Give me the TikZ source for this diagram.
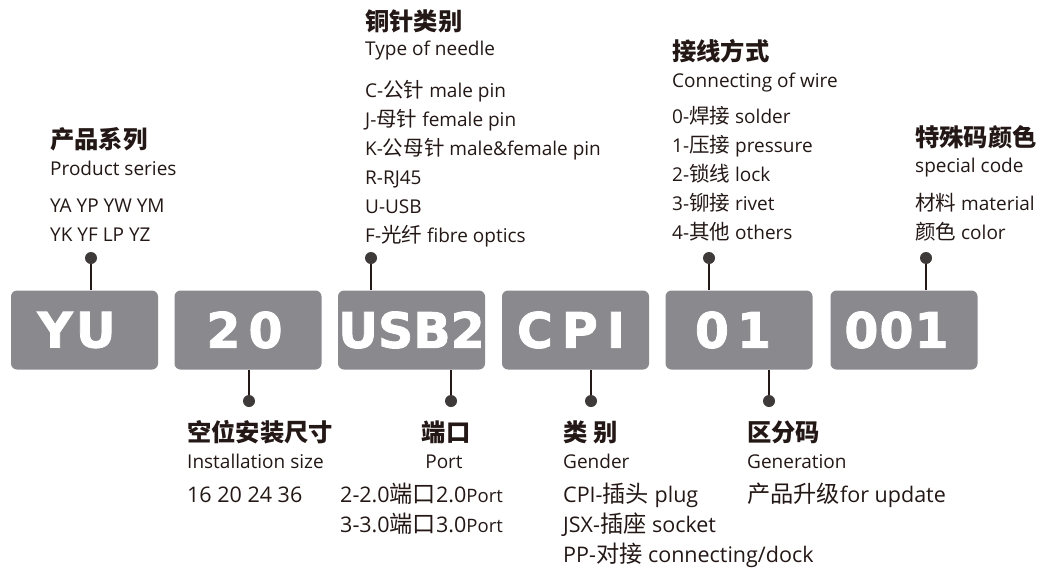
\documentclass[tikz,border=0pt]{standalone}
\usepackage{fontspec}
\setmainfont{Open Sans}
\newfontfamily\cjk{Noto Sans CJK SC}[Scale=1.08]
\newfontfamily\boxfont{DejaVu Sans}[BoldFeatures={FakeBold=1.6}]
\definecolor{boxgray}{RGB}{138,138,142}
\definecolor{dotc}{RGB}{62,58,57}
\definecolor{txt}{RGB}{35,24,21}
\begin{document}
\begin{tikzpicture}[x=1pt,y=-1pt,
  codebox/.style={fill=boxgray, rounded corners=6pt, minimum width=147pt, minimum height=79pt, inner sep=0pt, text=white, font=\boxfont\bfseries\fontsize{49}{49}\selectfont},
  pindot/.style={circle, fill=dotc, inner sep=0pt, minimum size=12pt},
  pinline/.style={draw=txt, line width=1.1pt},
  ttl/.style={anchor=base west, inner sep=0pt, text=txt, font=\cjk\bfseries\fontsize{22.5}{23}\selectfont},
  itm/.style={anchor=base west, inner sep=0pt, text=txt, font=\fontsize{19}{19}\selectfont},
  itmb/.style={anchor=base west, inner sep=0pt, text=txt, font=\fontsize{21.5}{21.5}\selectfont}]
\useasboundingbox (0,0) rectangle (1037,573);
\fill[white] (0,0) rectangle (1037,573);

% code boxes
\node[codebox] (b1) at (84.5,330) {Y\kern3pt U\kern16pt};
\node[codebox] (b2) at (248,330) {2\kern8pt 0\kern7pt};
\node[codebox] (b3) at (411.5,330) {U\kern0pt S\kern0pt B\kern0pt 2};
\node[codebox] (b4) at (575.5,330) {C\kern9pt P\kern9pt I\kern9pt};
\node[codebox] (b5) at (739,330) {0\kern8pt 1\kern12pt};
\node[codebox] (b6) at (904,330) {0\kern1pt 0\kern1pt 1\kern15pt};

% top pins
\node[pindot] (t1) at (91,258) {};
\node[pindot] (t3) at (371,258) {};
\node[pindot] (t5) at (709,258) {};
\node[pindot] (t6) at (926,258) {};
\draw[pinline] (t1) -- (t1 |- b1.north);
\draw[pinline] (t3) -- (t3 |- b3.north);
\draw[pinline] (t5) -- (t5 |- b5.north);
\draw[pinline] (t6) -- (t6 |- b6.north);

% bottom pins
\node[pindot] (u2) at (249,401) {};
\node[pindot] (u3) at (451,401) {};
\node[pindot] (u4) at (591,401) {};
\node[pindot] (u5) at (769,401) {};
\draw[pinline] (b2.south -| u2) -- (u2);
\draw[pinline] (b3.south -| u3) -- (u3);
\draw[pinline] (b4.south -| u4) -- (u4);
\draw[pinline] (b5.south -| u5) -- (u5);

% group 1
\node[ttl] (g1t) at (50,148) {产品系列};
\node[itm] (g1s) at (50,175) {Product series};
\node[itm] (g1a) at (50,212) {YA YP YW YM};
\node[itm] (g1b) at (50,241) {YK YF LP YZ};

% group 2
\node[ttl] (g2t) at (365,30) {铜针类别};
\node[itm] (g2s) at (365,55) {Type of needle};
\node[itm] (g2a) at (365,97) {C-{\cjk 公针} male pin};
\node[itm] (g2b) at (365,126) {J-{\cjk 母针} female pin};
\node[itm] (g2c) at (365,155) {K-{\cjk 公母针} male\&female pin};
\node[itm] (g2d) at (365,184) {R-RJ45};
\node[itm] (g2e) at (365,213) {U-USB};
\node[itm] (g2f) at (365,242) {F-{\cjk 光纤} fibre optics};

% group 3
\node[ttl] (g3t) at (672,60) {接线方式};
\node[itm] (g3s) at (672,87) {Connecting of wire};
\node[itm] (g3a) at (672,123) {0-{\cjk 焊接} solder};
\node[itm] (g3b) at (672,152) {1-{\cjk 压接} pressure};
\node[itm] (g3c) at (672,181) {2-{\cjk 锁线} lock};
\node[itm] (g3d) at (672,210) {3-{\cjk 铆接} rivet};
\node[itm] (g3e) at (672,239) {4-{\cjk 其他} others};

% group 4
\node[ttl] (g4t) at (915,146) {特殊码颜色};
\node[itm] (g4s) at (915,172) {special code};
\node[itm] (g4a) at (915,210) {{\cjk 材料} material};
\node[itm] (g4b) at (915,239) {{\cjk 颜色} color};

% group 5
\node[ttl] (g5t) at (187,441) {空位安装尺寸};
\node[itm] (g5s) at (187,468) {Installation size};
\node[itmb] (g5a) at (187,502) {16 20 24 36};

% group 6
\node[ttl, anchor=base] (g6t) at (446,441) {端口};
\node[itm, anchor=base] (g6s) at (444,468) {Port};
\node[itmb] (g6a) at (340,502) {2-2.0{\cjk 端口}2.0{\fontsize{18.5}{18.5}\selectfont Port}};
\node[itmb] (g6b) at (340,532) {3-3.0{\cjk 端口}3.0{\fontsize{18.5}{18.5}\selectfont Port}};

% group 7
\node[ttl] (g7t) at (563,441) {类 别};
\node[itm] (g7s) at (563,468) {Gender};
\node[itmb] (g7a) at (563,502) {CPI-{\cjk 插头} plug};
\node[itmb] (g7b) at (563,532) {JSX-{\cjk 插座} socket};
\node[itmb] (g7c) at (563,562) {PP-{\cjk 对接} connecting/dock};

% group 8
\node[ttl] (g8t) at (747,441) {区分码};
\node[itm] (g8s) at (747,468) {Generation};
\node[itmb] (g8a) at (747,502) {{\cjk 产品升级}for update};
\end{tikzpicture}
\end{document}
